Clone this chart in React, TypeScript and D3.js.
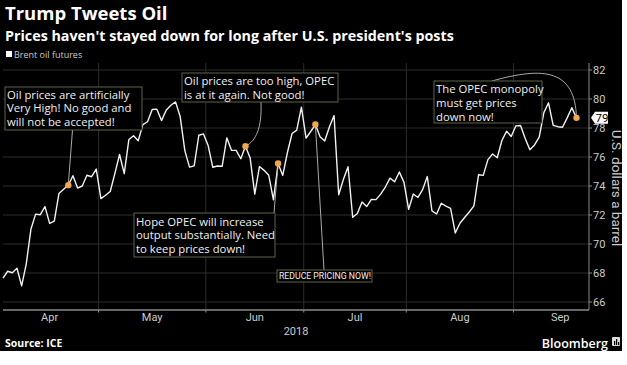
import React from "react";
import * as d3 from "d3";

// Brent front-month settles, one value per trading day (2 Apr - 20 Sep 2018)
const monthLabels = ["Apr", "May", "Jun", "Jul", "Aug", "Sep"];
const tradingDaysPerMonth = [21, 23, 21, 22, 23, 20];
const brent = [
  // Apr
  67.64, 68.12, 68.02, 68.33, 67.11, 68.65, 71.04, 72.06, 72.02, 72.58, 71.42,
  71.58, 73.48, 73.78, 74.06, 74.71, 73.86, 74.0, 74.74, 74.64, 75.17,
  // May
  73.13, 73.36, 73.62, 74.87, 76.17, 74.85, 77.21, 77.47, 77.12, 78.23, 78.43,
  79.28, 79.3, 78.51, 79.22, 79.57, 79.8, 78.79, 76.44, 75.3, 75.39, 77.5, 77.59,
  // Jun
  76.79, 75.29, 75.38, 75.36, 77.32, 76.46, 76.46, 75.88, 76.74, 75.94, 73.44,
  75.34, 75.08, 74.74, 73.05, 75.55, 74.73, 76.31, 77.62, 77.85, 79.44,
  // Jul
  77.3, 77.76, 78.24, 77.39, 77.11, 78.07, 78.86, 73.4, 74.45, 75.33, 71.84,
  72.1, 72.9, 72.58, 73.07, 73.06, 73.44, 73.93, 74.54, 74.29, 74.97, 74.25,
  // Aug
  72.39, 73.45, 73.21, 73.75, 74.65, 72.28, 72.07, 72.81, 72.61, 72.46, 70.76,
  71.43, 71.83, 72.21, 72.63, 74.78, 74.73, 75.82, 76.21, 75.95, 77.14, 77.77,
  77.42,
  // Sep
  78.15, 78.17, 77.27, 76.5, 76.83, 77.37, 79.06, 79.74, 78.18, 78.09, 78.05,
  78.7, 79.4, 78.7,
];
const yTicks = [66, 68, 70, 72, 74, 76, 78, 80, 82];

// trading-day index of each tweet
const tweetDays = [14, 52, 59, 67, 123];
const tweetTexts = [
  ["Oil prices are artificially", "Very High! No good and", "will not be accepted!"],
  ["Oil prices are too high, OPEC", "is at it again. Not good!"],
  ["Hope OPEC will increase", "output substantially. Need", "to keep prices down!"],
  ["REDUCE PRICING NOW!"],
  ["The OPEC monopoly", "must get prices", "down now!"],
];

const W = 627;
const H = 365;
const plot = { left: 3, right: 589, top: 63, bottom: 310 };
const bg = "#000";
const grid = "#2c2c2c";
const axisCol = "#8a8a8a";
const boxStroke = "#5d6446";
const dotCol = "#f0a848";
const sans = "'Open Sans', sans-serif";
const axisFont = "Roboto, sans-serif";

// annotation boxes (pixel layout)
const boxes = [
  { x: 5, y: 87, w: 137, h: 43, size: 11.3, first: 11.5, font: sans },
  { x: 182, y: 73, w: 156, h: 29, size: 11.3, first: 12, font: sans },
  { x: 134, y: 213, w: 141, h: 44, size: 11.3, first: 12.5, font: sans },
  { x: 277, y: 270, w: 95, h: 12, size: 8.7, first: 8.8, font: axisFont },
  { x: 434, y: 81, w: 108, h: 42, size: 11.3, first: 12, font: sans },
];
const lineHeight = 13.8;

export default function App() {
  const x = d3
    .scaleLinear()
    .domain([0, brent.length - 1])
    .range([plot.left, 576.5]);
  const y = d3.scaleLinear().domain([66, 82]).range([302, 70]);

  const line = d3
    .line<number>()
    .x((_, i) => x(i))
    .y((d) => y(d));

  // month boundaries & label centres in trading-day units
  const edges = [-0.5];
  tradingDaysPerMonth.forEach((n, i) => edges.push(edges[i] + n));
  const boundaries = edges.slice(1, -1);
  const centres = monthLabels.map((_, i) => (edges[i] + edges[i + 1]) / 2);

  const dots = tweetDays.map((d) => [x(d), y(brent[d])]);
  const last = brent[brent.length - 1];
  const lastY = y(last);

  const connectors = [
    `M${dots[0][0]},${dots[0][1]} L72.5,130`,
    `M261,102 C262,128 256,141 ${dots[1][0]},${dots[1][1]}`,
    `M${dots[2][0]},${dots[2][1]} L274,213`,
    `M${dots[3][0]},${dots[3][1]} L324,270`,
    `M492,81 C545,66 575,70 ${dots[4][0]},${dots[4][1]}`,
  ];

  return (
    <svg
      width={W}
      height={H}
      style={{ position: "absolute", left: 0, top: 0, background: "#fff" }}
    >
      <rect x={0} y={0} width={622} height={351} fill={bg} />

      <text x={5} y={20} fill="#fff" fontFamily={sans} fontWeight={700} fontSize={18.5}>
        Trump Tweets Oil
      </text>
      <text x={5} y={40.5} fill="#fff" fontFamily={sans} fontWeight={700} fontSize={14.3}>
        Prices haven't stayed down for long after U.S. president's posts
      </text>
      <rect x={6} y={51} width={6} height={6} fill="#fff" />
      <text x={14} y={57.5} fill="#ccc" fontFamily={sans} fontSize={9}>
        Brent oil futures
      </text>

      {/* grid */}
      {yTicks.map((t) => (
        <line
          key={"h" + t}
          x1={plot.left}
          x2={plot.right}
          y1={y(t)}
          y2={y(t)}
          stroke={grid}
        />
      ))}
      {boundaries.map((b) => (
        <line
          key={"v" + b}
          x1={x(b)}
          x2={x(b)}
          y1={plot.top}
          y2={plot.bottom}
          stroke={grid}
        />
      ))}

      {/* axes */}
      <line x1={plot.left} x2={plot.right} y1={plot.bottom} y2={plot.bottom} stroke={axisCol} strokeWidth={1.5} />
      <line x1={plot.right} x2={plot.right} y1={plot.top} y2={plot.bottom} stroke={axisCol} />
      {boundaries.map((b) => (
        <line key={"xt" + b} x1={x(b)} x2={x(b)} y1={plot.bottom} y2={plot.bottom + 2.5} stroke={axisCol} />
      ))}
      {yTicks.map((t) => (
        <g key={"yt" + t}>
          <line x1={plot.right} x2={plot.right + 3} y1={y(t)} y2={y(t)} stroke={axisCol} />
          <text x={plot.right + 4} y={y(t) + 4} fill="#ccc" fontFamily={axisFont} fontSize={11}>
            {t}
          </text>
        </g>
      ))}
      {monthLabels.map((m, i) => (
        <text
          key={m}
          x={x(centres[i])}
          y={321}
          fill="#ccc"
          fontFamily={axisFont}
          fontSize={11}
          textAnchor="middle"
        >
          {m}
        </text>
      ))}
      <text x={(plot.left + plot.right) / 2} y={335} fill="#ccc" fontFamily={axisFont} fontSize={11} textAnchor="middle">
        2018
      </text>
      <text
        transform="translate(612,188) rotate(90)"
        fill="#ccc"
        fontFamily={axisFont}
        fontSize={13.5}
        textAnchor="middle"
      >
        U.S. dollars a barrel
      </text>

      {/* series */}
      <path d={line(brent) || ""} fill="none" stroke="#f2f2f2" strokeWidth={1.4} strokeLinejoin="round" />

      {/* annotations */}
      {connectors.map((d, i) => (
        <path key={"c" + i} d={d} fill="none" stroke="#bdbdbd" strokeWidth={0.9} />
      ))}
      {tweetTexts.map((lines, i) => {
        const b = boxes[i];
        return (
          <g key={"b" + i}>
            <rect x={b.x} y={b.y} width={b.w} height={b.h} fill={bg} stroke={boxStroke} />
            {lines.map((l, j) => (
              <text
                key={j}
                x={b.x + 2}
                y={b.y + b.first + j * lineHeight}
                fill="#f0f0f0"
                fontFamily={b.font}
                fontSize={b.size}
              >
                {l}
              </text>
            ))}
          </g>
        );
      })}
      {dots.map(([cx, cy], i) => (
        <circle key={"d" + i} cx={cx} cy={cy} r={3.2} fill={dotCol} />
      ))}

      {/* last value tag */}
      <path
        d={`M${plot.right + 2},${lastY} L${plot.right + 6},${lastY - 6} H${plot.right + 19} V${lastY + 6} H${plot.right + 6} Z`}
        fill="#fff"
      />
      <text x={plot.right + 6.5} y={lastY + 4} fill="#000" fontFamily={axisFont} fontSize={11.5}>
        {Math.round(last)}
      </text>

      {/* footer */}
      <text x={5} y={347} fill="#fff" fontFamily={sans} fontWeight={700} fontSize={10.5}>
        Source: ICE
      </text>
      <text x={608} y={348} fill="#fff" fontFamily={sans} fontWeight={600} fontSize={12.5} textAnchor="end">
        Bloomberg
      </text>
      <rect x={612} y={337} width={8} height={9} rx={1} fill="#ddd" />
      <rect x={614} y={341} width={1.2} height={4} fill="#000" />
      <rect x={616} y={339} width={1.2} height={6} fill="#000" />
      <rect x={618} y={342} width={1.2} height={3} fill="#000" />
    </svg>
  );
}
